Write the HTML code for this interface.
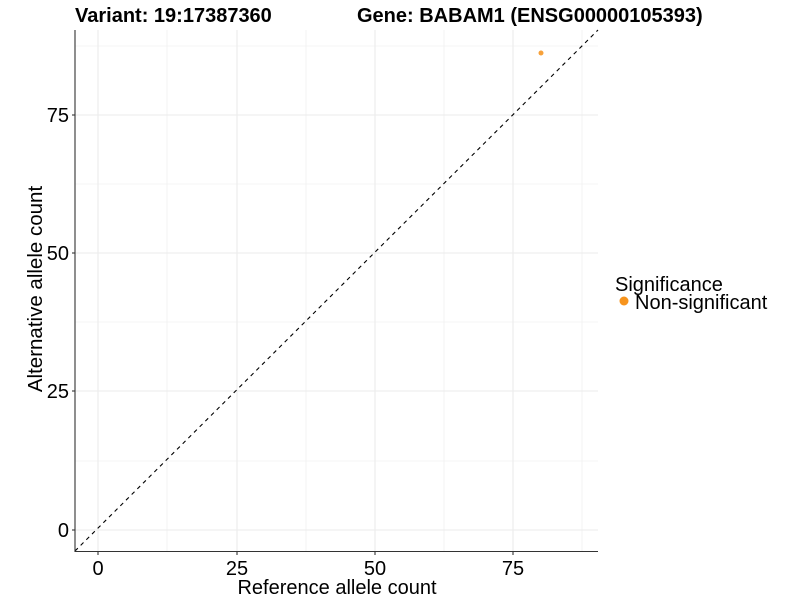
<!DOCTYPE html>
<html><head><style>body{margin:0;background:#fff}</style></head><body>
<svg width="800" height="600" xmlns="http://www.w3.org/2000/svg" font-family="Liberation Sans, Arial, sans-serif">
<rect width="800" height="600" fill="#fff"/>
<g stroke="#ebebeb" stroke-width="0.6">
<line x1="167" y1="30" x2="167" y2="551"/><line x1="306" y1="30" x2="306" y2="551"/><line x1="444" y1="30" x2="444" y2="551"/><line x1="582" y1="30" x2="582" y2="551"/>
<line x1="75" y1="461" x2="598" y2="461"/><line x1="75" y1="322" x2="598" y2="322"/><line x1="75" y1="184" x2="598" y2="184"/><line x1="75" y1="46" x2="598" y2="46"/>
</g>
<g stroke="#ebebeb" stroke-width="1.1">
<line x1="98" y1="30" x2="98" y2="551"/><line x1="237" y1="30" x2="237" y2="551"/><line x1="375" y1="30" x2="375" y2="551"/><line x1="513" y1="30" x2="513" y2="551"/>
<line x1="75" y1="530" x2="598" y2="530"/><line x1="75" y1="391" x2="598" y2="391"/><line x1="75" y1="253" x2="598" y2="253"/><line x1="75" y1="115" x2="598" y2="115"/>
</g>
<line x1="75" y1="551" x2="598" y2="30" stroke="#000" stroke-width="1.1" stroke-dasharray="4,4"/>
<circle cx="541" cy="53" r="2.5" fill="#f7a13a"/>
<g stroke="#333" stroke-width="1.1">
<line x1="75" y1="30" x2="75" y2="552"/><line x1="74.5" y1="551.5" x2="598" y2="551.5"/>
<line x1="98" y1="552" x2="98" y2="555"/><line x1="237" y1="552" x2="237" y2="555"/><line x1="375" y1="552" x2="375" y2="555"/><line x1="513" y1="552" x2="513" y2="555"/>
<line x1="72" y1="530" x2="75" y2="530"/><line x1="72" y1="391" x2="75" y2="391"/><line x1="72" y1="253" x2="75" y2="253"/><line x1="72" y1="115" x2="75" y2="115"/>
</g>
<g font-size="20" fill="#000" text-anchor="middle">
<text x="98" y="575">0</text><text x="237" y="575">25</text><text x="375" y="575">50</text><text x="513" y="575">75</text>
</g>
<g font-size="20" fill="#000" text-anchor="end">
<text x="69" y="537">0</text><text x="69" y="398">25</text><text x="69" y="260">50</text><text x="69" y="122">75</text>
</g>
<text x="337" y="594" font-size="20" text-anchor="middle">Reference allele count</text>
<text transform="translate(42,289) rotate(-90)" font-size="20.5" text-anchor="middle">Alternative allele count</text>
<text x="75" y="22" font-size="20" font-weight="bold">Variant: 19:17387360</text>
<text x="357" y="22" font-size="20" font-weight="bold">Gene: BABAM1 (ENSG00000105393)</text>
<text x="615" y="291" font-size="20">Significance</text>
<circle cx="624" cy="301" r="4.5" fill="#f7941d"/>
<text x="635" y="309" font-size="20">Non-significant</text>
</svg>
</body></html>
